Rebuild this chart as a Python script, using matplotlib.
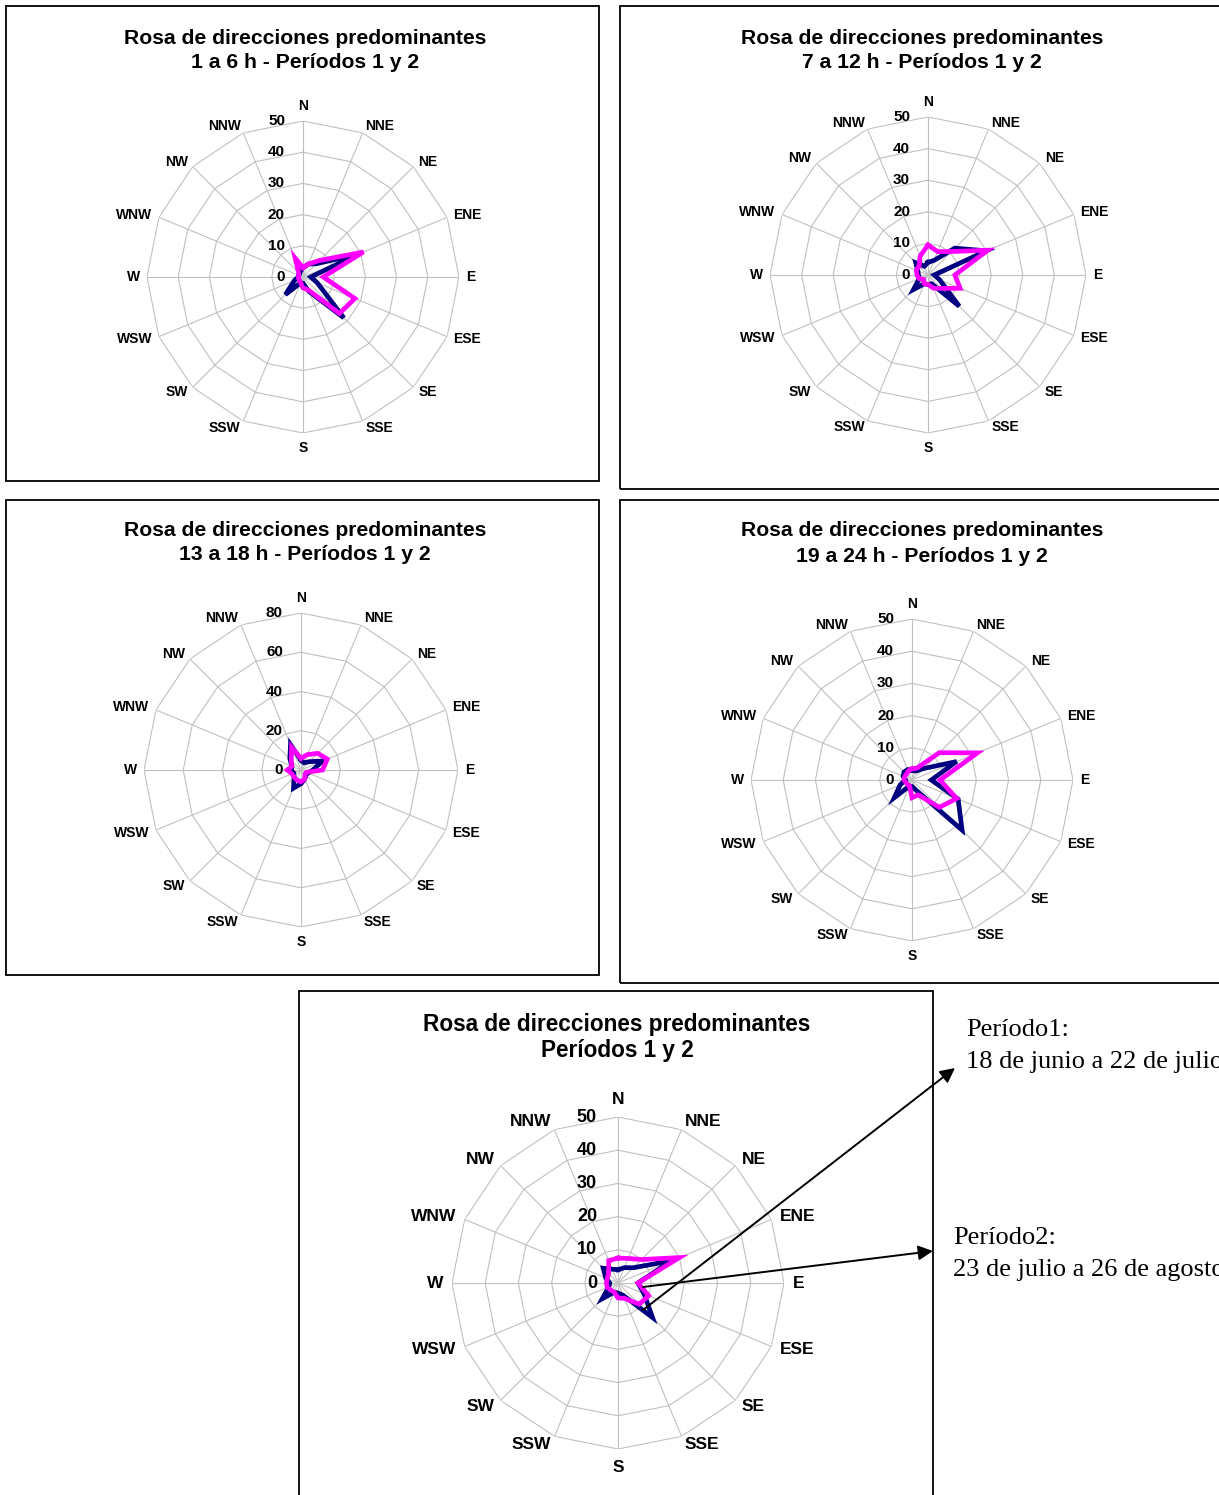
import numpy as np
import matplotlib
matplotlib.use("Agg")
import matplotlib.pyplot as plt
from matplotlib.patches import Rectangle, FancyArrowPatch

plt.rcParams["font.family"] = ["Liberation Sans", "DejaVu Sans"]

W, H = 1219, 1495

directions = ["N", "NNE", "NE", "ENE", "E", "ESE", "SE", "SSE",
              "S", "SSW", "SW", "WSW", "W", "WNW", "NW", "NNW"]

# Frequency (%) of each wind direction; periodo 1 (navy) and periodo 2 (magenta)
h01_06_p1 = [3, 4.5, 6, 19, 2.5, 5, 18.5, 5, 2, 2, 8, 3, 1.5, 1.5, 1.5, 2]
h01_06_p2 = [3, 4.5, 7.5, 21, 6.5, 18, 16.5, 4.5, 3.5, 2, 1.5, 1.5, 1.5, 1.5, 2, 6.5]

h07_12_p1 = [4, 5, 12, 20, 2, 4, 14, 3, 3, 3, 6.5, 3, 3, 3.5, 5.5, 3]
h07_12_p2 = [9.5, 8, 10.5, 20.5, 8.5, 11, 6, 4.5, 3, 3, 2, 3, 3.5, 4, 4, 6.5]

h13_18_p1 = [5, 4, 6, 12, 6, 4, 3.5, 5, 7, 10, 5, 4, 5, 5, 8, 14]
h13_18_p2 = [6, 8.5, 12, 14.5, 11, 3, 3, 5, 6, 5.5, 5, 5, 7, 5, 7, 12.5]

h19_24_p1 = [3, 3, 5, 15, 6, 15.5, 22, 3.5, 2, 2, 7.8, 4, 2, 3, 3.5, 3.5]
h19_24_p2 = [3.5, 4, 12, 22, 8.7, 15, 12, 5, 5.5, 2, 2, 2, 2.5, 2.5, 2.5, 3]

total_p1 = [4, 5, 6.5, 17.5, 6, 8.5, 14.7, 4, 3, 3, 6.7, 3, 2.5, 4, 6.3, 4.5]
total_p2 = [7.5, 8, 10, 20, 6, 10, 9, 5, 4.5, 3, 3, 3.5, 3.5, 3.5, 4, 7.3]

ticks_50 = [0, 10, 20, 30, 40, 50]
ticks_80 = [0, 20, 40, 60, 80]

NAVY = "#000080"
MAGENTA = "#FF00FF"
GRID = "#c0c0c0"

fig = plt.figure(figsize=(W / 100, H / 100), dpi=100)


def fx(x):
    return x / W


def fy(y):
    return 1 - y / H


def panel_box(x0, y0, x1, y1):
    fig.add_artist(Rectangle((fx(x0), fy(y1)), fx(x1) - fx(x0), fy(y0) - fy(y1),
                             transform=fig.transFigure, fill=False,
                             edgecolor="black", linewidth=1.3))


def rose(cx, cy, R, ticks, p1, p2, title, title_x, title_ys, title_size,
         lab_size, num_size, lab_gap, ns_gap, num_gap, lw):
    ax = fig.add_axes([fx(cx - R), fy(cy + R), 2 * R / W, 2 * R / H],
                      projection="polar")
    ax.set_theta_zero_location("N")
    ax.set_theta_direction(-1)
    ax.set_ylim(0, ticks[-1])
    ax.grid(False)
    ax.set_xticks([])
    ax.set_yticks([])
    ax.spines["polar"].set_visible(False)
    ax.patch.set_visible(False)

    theta = np.deg2rad(np.arange(len(directions)) * 22.5)
    closed = np.append(theta, theta[0])
    rmax = ticks[-1]

    # polygonal rings and spokes
    for t in ticks[1:]:
        ax.plot(closed, [t] * len(closed), color=GRID, lw=0.8, zorder=1)
    for th in theta:
        ax.plot([th, th], [0, rmax], color=GRID, lw=0.8, zorder=1)

    # data series
    ax.plot(closed, list(p1) + [p1[0]], color=NAVY, lw=lw, zorder=3,
            solid_joinstyle="miter")
    ax.plot(closed, list(p2) + [p2[0]], color=MAGENTA, lw=lw, zorder=4,
            solid_joinstyle="miter")

    # radial values along the north spoke
    for t in ticks:
        ax.annotate(str(t), xy=(0, t), xytext=(-num_gap, 0),
                    textcoords="offset pixels", ha="right", va="center",
                    fontsize=num_size, fontweight="bold", zorder=5)

    # direction labels
    for th, name in zip(theta, directions):
        s, c = np.sin(th), np.cos(th)
        if abs(s) < 0.1:
            off = (0, ns_gap * np.sign(c))
            ha = "center"
        else:
            off = (lab_gap * s, lab_gap * c)
            ha = "left" if s > 0 else "right"
        ax.annotate(name, xy=(th, rmax), xytext=off, textcoords="offset pixels",
                    ha=ha, va="center", fontsize=lab_size, fontweight="bold")

    for line, y in zip(title, title_ys):
        fig.text(fx(title_x), fy(y), line, ha="center", va="center",
                 fontsize=title_size, fontweight="bold")


title_top = "Rosa de direcciones predominantes"

panel_box(6, 6, 599, 481)
panel_box(620, 6, 1230, 489)
panel_box(6, 500, 599, 975)
panel_box(620, 500, 1230, 983)
panel_box(299, 991, 933, 1510)

rose(303, 277, 156, ticks_50, h01_06_p1, h01_06_p2,
     [title_top, "1 a 6 h - Períodos 1 y 2"], 305, [38, 62],
     15.2, 10, 11, 7, 15, 18, 3.4)
rose(928, 275, 158, ticks_50, h07_12_p1, h07_12_p2,
     [title_top, "7 a 12 h - Períodos 1 y 2"], 922, [38, 62],
     15.2, 10, 11, 7, 15, 18, 3.4)
rose(301, 770, 157, ticks_80, h13_18_p1, h13_18_p2,
     [title_top, "13 a 18 h - Períodos 1 y 2"], 305, [531, 555],
     15.2, 10, 11, 7, 15, 18, 3.4)
rose(912, 780, 161, ticks_50, h19_24_p1, h19_24_p2,
     [title_top, "19 a 24 h - Períodos 1 y 2"], 922, [531, 556],
     15.2, 10, 11, 7, 15, 18, 3.4)
rose(618, 1283, 166, ticks_50, total_p1, total_p2,
     [title_top, "Períodos 1 y 2"], 617, [1025, 1050],
     16.3, 12.5, 13, 9, 18, 21, 3.4)

# period notes with arrows pointing into the combined rose
serif = ["Liberation Serif", "DejaVu Serif"]
fig.text(fx(966), fy(1030), "Período1:", ha="left", va="center",
         fontsize=19, family=serif)
fig.text(fx(966), fy(1062), "18 de junio a 22 de julio", ha="left", va="center",
         fontsize=19, family=serif)
fig.text(fx(953), fy(1238), "Período2:", ha="left", va="center",
         fontsize=19, family=serif)
fig.text(fx(953), fy(1270), "23 de julio a 26 de agosto", ha="left", va="center",
         fontsize=19, family=serif)

for (x0, y0), (x1, y1) in [((643, 1310), (955, 1068)), ((643, 1287), (933, 1251))]:
    fig.add_artist(FancyArrowPatch((fx(x0), fy(y0)), (fx(x1), fy(y1)),
                                   transform=fig.transFigure,
                                   arrowstyle="-|>", mutation_scale=22,
                                   color="black", lw=1.4, shrinkA=0, shrinkB=0,
                                   zorder=10))

fig.savefig("out.png", dpi=100)
